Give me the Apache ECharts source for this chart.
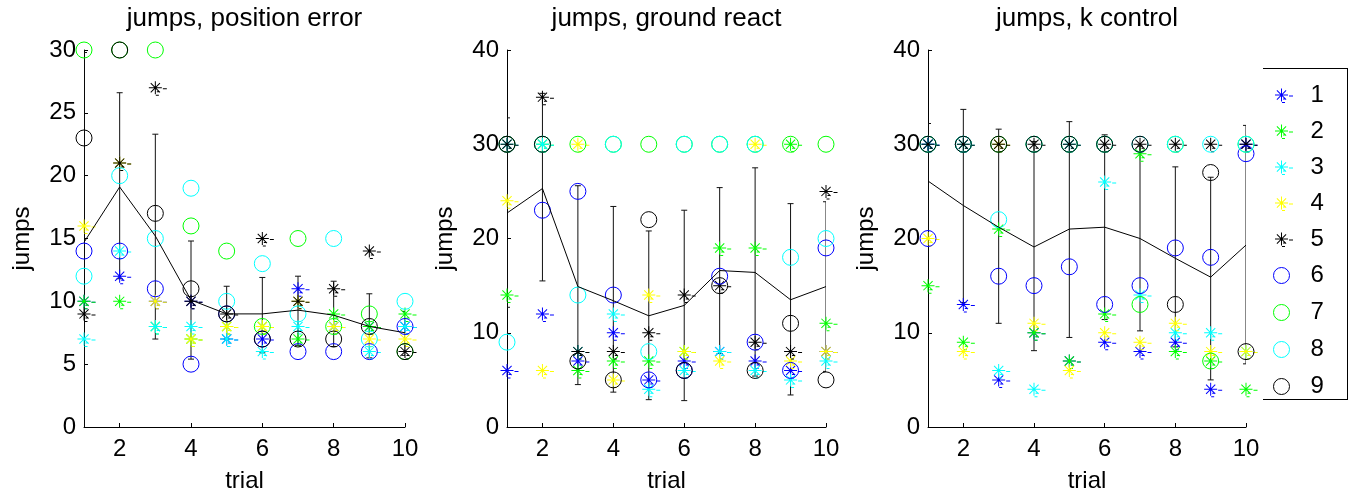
<!DOCTYPE html>
<html>
<head>
<meta charset="utf-8">
<title>jumps</title>
<script src="https://cdn.jsdelivr.net/npm/echarts@6/dist/echarts.min.js"></script>
<style>
  html, body { margin: 0; padding: 0; background: #fff; }
  #chart { width: 1359px; height: 499px; }
</style>
</head>
<body>
<div id="chart"></div>
<script>
// trials on the x axis, subjects 1..9 in the legend
var trials = [1, 2, 3, 4, 5, 6, 7, 8, 9, 10];
var xTickValues = [2, 4, 6, 8, 10];
var subjects = ['1', '2', '3', '4', '5', '6', '7', '8', '9'];

// jumps, position error (one row per subject)
var posError = [
  [10, 12, 10, 10, 7, 7, 11, 8, 8, 8],
  [10, 10, 8, 7, 8, 8, 7, 9, 8, 9],
  [7, 14, 8, 8, 7, 6, 8, 8, 6, 8],
  [16, 21, 10, 7, 8, 8, 10, 8, 7, 7],
  [9, 21, 27, 10, 9, 15, 10, 11, 14, 6],
  [14, 14, 11, 5, 9, 7, 6, 6, 6, 8],
  [30, 30, 30, 16, 14, 8, 15, 8, 9, 6],
  [12, 20, 15, 19, 10, 13, 9, 15, 7, 10],
  [23, 30, 17, 11, 9, 7, 7, 7, 8, 6]
];
var posErrorMean = [14.7, 19.1, 15.2, 10.1, 9.0, 9.0, 9.3, 8.9, 8.0, 7.5];
var posErrorLow = [-0.5, 11.8, 7.0, 5.4, 7.0, 5.9, 6.5, 6.4, 5.5, 5.7];
var posErrorHigh = [29.8, 26.6, 23.3, 14.8, 11.2, 11.9, 12.0, 11.6, 10.6, 9.2];

// jumps, ground react
var groundReact = [
  [6, 12, 7, 10, 5, 7, 8, 7, 6, 8],
  [14, 30, 6, 7, 7, 8, 19, 19, 30, 11],
  [30, 30, 8, 12, 4, 6, 8, 6, 5, 7],
  [24, 6, 30, 5, 14, 8, 7, 30, 7, 8],
  [30, 35, 8, 8, 10, 14, 15, 9, 8, 25],
  [30, 23, 25, 14, 5, 6, 16, 9, 6, 19],
  [30, 30, 30, 30, 30, 30, 30, 30, 30, 30],
  [9, 30, 14, 30, 8, 30, 30, 30, 18, 20],
  [30, 30, 7, 5, 22, 6, 15, 6, 11, 5]
];
var groundReactMean = [22.7, 25.3, 14.9, 13.4, 11.8, 12.9, 16.6, 16.4, 13.5, 14.9];
var groundReactLow = [12.7, 15.5, 4.5, 3.7, 2.9, 2.8, 7.8, 5.4, 3.4, 5.9];
var groundReactHigh = [32.8, 35.4, 25.6, 23.4, 20.8, 23.0, 25.4, 27.5, 23.7, 23.9];

// jumps, k control
var kControl = [
  [30, 13, 5, 10, 7, 9, 8, 9, 4, 30],
  [15, 9, 21, 10, 7, 12, 29, 8, 7, 4],
  [30, 30, 6, 4, 30, 26, 14, 10, 10, 8],
  [20, 8, 30, 11, 6, 10, 9, 11, 8, 8],
  [30, 30, 30, 30, 30, 30, 30, 30, 30, 30],
  [20, 30, 16, 15, 17, 13, 15, 19, 18, 29],
  [30, 30, 30, 30, 30, 30, 13, 30, 7, 30],
  [30, 30, 22, 30, 30, 30, 30, 30, 30, 30],
  [30, 30, 30, 30, 30, 30, 30, 13, 27, 8]
];
var kControlMean = [26.1, 23.5, 21.2, 19.1, 21.0, 21.2, 20.0, 17.9, 15.9, 19.3];
var kControlLow = [20.0, 13.2, 11.0, 8.1, 9.5, 11.4, 10.2, 8.5, 5.0, 6.7];
var kControlHigh = [32.2, 33.7, 31.6, 30.3, 32.4, 31.0, 29.8, 27.6, 26.5, 32.0];

var titles = ['jumps, position error', 'jumps, ground react', 'jumps, k control'];
var yMax = [30, 40, 40];
var yStep = [5, 10, 10];

// styling / layout
var fontFamily = 'Liberation Sans, Arial, sans-serif';
var colors = ['#0000ff', '#00ff00', '#00ffff', '#ffff00', '#000000',
              '#0000ff', '#00ff00', '#00ffff', '#000000'];
var gridLeft = [84, 507, 928];
var gridWidth = [321, 319, 318];
var gridTop = 50;
var gridHeight = 377;

// asterisk with the little dashes matlab leaves next to it, padded so it stays centred
var starPath = 'path://M-12,-12M12,12' +
  'M-6.5,-0.5H6.5V0.5H-6.5Z' +
  'M-0.5,-6.5H0.5V6.5H-0.5Z' +
  'M-4.95,-4.25L-4.25,-4.95L4.95,4.25L4.25,4.95Z' +
  'M-4.95,4.25L4.25,-4.95L4.95,-4.25L-4.25,4.95Z' +
  'M7.5,0.5H11.5V1.5H7.5Z' +
  'M1.5,3.5H4.5V4.5H1.5Z' +
  'M0.5,7H3.5V8H0.5Z';
var circleIcon = 'path://M-12,-12M12,12M8,0A8,8,0,1,1,-8,0A8,8,0,1,1,8,0Z';

var panelRows = [posError, groundReact, kControl];
var panelMean = [posErrorMean, groundReactMean, kControlMean];
var panelLow = [posErrorLow, groundReactLow, kControlLow];
var panelHigh = [posErrorHigh, groundReactHigh, kControlHigh];

function renderErrorBar(params, api) {
  var x = api.value(0);
  var lo = api.coord([x, api.value(1)]);
  var hi = api.coord([x, api.value(2)]);
  var cap = 3;
  var style = { stroke: '#111', lineWidth: 1 };
  return {
    type: 'group',
    children: [
      { type: 'line', shape: { x1: lo[0], y1: lo[1], x2: hi[0], y2: hi[1] }, style: style },
      { type: 'line', shape: { x1: lo[0] - cap, y1: lo[1], x2: lo[0] + cap, y2: lo[1] }, style: style },
      { type: 'line', shape: { x1: hi[0] - cap, y1: hi[1], x2: hi[0] + cap, y2: hi[1] }, style: style }
    ]
  };
}

var series = [];
panelRows.forEach(function (rows, k) {
  rows.forEach(function (row, s) {
    var isStar = s < 5;
    series.push({
      name: subjects[s],
      type: 'scatter',
      xAxisIndex: k,
      yAxisIndex: k,
      symbol: isStar ? starPath : 'circle',
      symbolSize: isStar ? 24 : 16,
      clip: false,
      silent: true,
      itemStyle: isStar
        ? { color: colors[s], borderWidth: 0, opacity: 1 }
        : { color: 'transparent', borderColor: colors[s], borderWidth: 1, opacity: 1 },
      data: trials.map(function (t, i) { return [t, row[i]]; })
    });
  });
  series.push({
    type: 'line',
    xAxisIndex: k,
    yAxisIndex: k,
    symbol: 'none',
    silent: true,
    lineStyle: { color: '#000', width: 1 },
    data: trials.map(function (t, i) { return [t, panelMean[k][i]]; })
  });
  series.push({
    type: 'custom',
    xAxisIndex: k,
    yAxisIndex: k,
    clip: true,
    silent: true,
    renderItem: renderErrorBar,
    data: trials.map(function (t, i) { return [t, panelLow[k][i], panelHigh[k][i]]; })
  });
});

var chart = echarts.init(document.getElementById('chart'));
chart.setOption({
  animation: false,
  backgroundColor: '#fff',
  textStyle: { fontFamily: fontFamily },
  title: titles.map(function (t, k) {
    return {
      text: t,
      left: gridLeft[k] + gridWidth[k] / 2,
      top: 6,
      textAlign: 'center',
      padding: 0,
      textStyle: { fontSize: 26, fontWeight: 'normal', color: '#000', fontFamily: fontFamily }
    };
  }),
  grid: titles.map(function (t, k) {
    return { left: gridLeft[k], top: gridTop, width: gridWidth[k], height: gridHeight,
             containLabel: false, outerBoundsMode: 'none' };
  }),
  xAxis: titles.map(function (t, k) {
    return {
      type: 'value', gridIndex: k, min: 1, max: 10,
      name: 'trial', nameLocation: 'middle', nameGap: 42,
      nameTextStyle: { fontSize: 24, color: '#000', fontFamily: fontFamily },
      axisLine: { show: true, onZero: false, lineStyle: { color: '#000', width: 1 } },
      axisTick: { show: true, inside: true, length: 4, customValues: xTickValues, lineStyle: { color: '#000' } },
      axisLabel: { customValues: xTickValues, fontSize: 24, color: '#000', margin: 10, fontFamily: fontFamily },
      splitLine: { show: false }
    };
  }),
  yAxis: titles.map(function (t, k) {
    return {
      type: 'value', gridIndex: k, min: 0, max: yMax[k], interval: yStep[k],
      name: 'jumps', nameLocation: 'middle', nameGap: 50,
      nameTextStyle: { fontSize: 24, color: '#000', fontFamily: fontFamily },
      axisLine: { show: true, onZero: false, lineStyle: { color: '#000', width: 1 } },
      axisTick: { show: true, inside: true, length: 4, lineStyle: { color: '#000' } },
      axisLabel: { fontSize: 24, color: '#000', margin: 8, fontFamily: fontFamily },
      splitLine: { show: false }
    };
  }),
  legend: {
    orient: 'vertical',
    left: 1264,
    top: 78,
    itemWidth: 48,
    itemHeight: 24,
    itemGap: 12,
    selectedMode: false,
    textStyle: { fontSize: 24, color: '#000', fontFamily: fontFamily },
    data: subjects.map(function (n, s) {
      return s < 5
        ? { name: n, itemStyle: { borderWidth: 0 } }
        : { name: n, icon: circleIcon, itemStyle: { color: 'transparent', borderColor: colors[s], borderWidth: 1 } };
    })
  },
  graphic: [
    { type: 'line', shape: { x1: 1263, y1: 68.5, x2: 1347, y2: 68.5 }, style: { stroke: '#000', lineWidth: 1 } },
    { type: 'line', shape: { x1: 1347.5, y1: 68, x2: 1347.5, y2: 400 }, style: { stroke: '#000', lineWidth: 1 } },
    { type: 'line', shape: { x1: 1263, y1: 399.5, x2: 1347, y2: 399.5 }, style: { stroke: '#000', lineWidth: 1 } }
  ],
  series: series
});
</script>
</body>
</html>
